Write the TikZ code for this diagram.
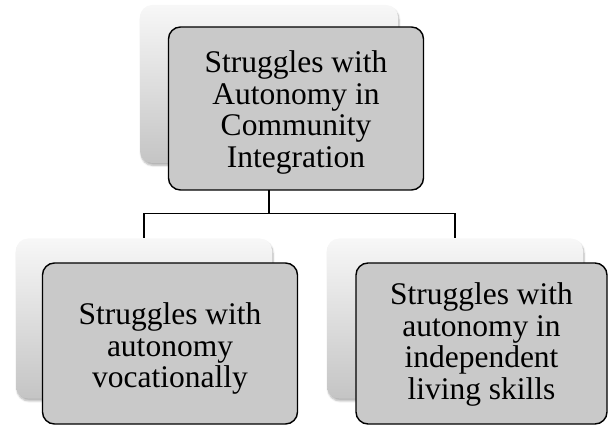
\documentclass[tikz,border=0pt]{standalone}
\usepackage{fontspec}
\setmainfont{Liberation Serif}
\usetikzlibrary{shadows.blur}
\tikzset{
  backbox/.style={rectangle, rounded corners=12pt, minimum width=256pt, minimum height=160pt,
    top color=white!97!black, bottom color=white!77!black, draw=none, inner sep=0pt,
    blur shadow={shadow xshift=1pt, shadow yshift=-2.5pt, shadow opacity=30, shadow blur steps=6}},
  frontbox/.style={rectangle, rounded corners=12pt, minimum width=255pt, minimum height=161pt,
    fill=white!79!black, draw=black, line width=1.4pt, inner sep=0pt},
  fronttext/.style={align=center, inner sep=0pt, font=\fontsize{31.5}{31.7}\selectfont},
  conn/.style={draw=black, line width=1.1pt}
}
\begin{document}
\begin{tikzpicture}[x=1pt,y=1pt]
\useasboundingbox (0,0) rectangle (608,426);
% back boxes
\node[backbox, minimum width=258pt, minimum height=158pt] (tb) at (269,342) {};
\node[backbox] (lb) at (144,107.5) {};
\node[backbox] (rb) at (455,107.5) {};
% connectors
\draw[conn] (tb.south) -- ++(0,-50) coordinate (hub);
\draw[conn] (hub) -| (lb.north);
\draw[conn] (hub) -| (rb.north);
% front boxes
\node[frontbox, minimum height=163pt] (tf) at (296,317.5) {};
\node[fronttext] (tft) at ([yshift=-4pt]tf.center) {Struggles with\\Autonomy in\\Community\\Integration};
\node[frontbox] (lf) at (170,82.5) {};
\node[fronttext] (lft) at ([yshift=-5pt]lf.center) {Struggles with\\autonomy\\vocationally};
\node[frontbox, minimum width=251pt] (rf) at (481.5,82.5) {};
\node[fronttext] (rft) at ([yshift=-1pt]rf.center) {Struggles with\\autonomy in\\independent\\living skills};
\end{tikzpicture}
\end{document}
